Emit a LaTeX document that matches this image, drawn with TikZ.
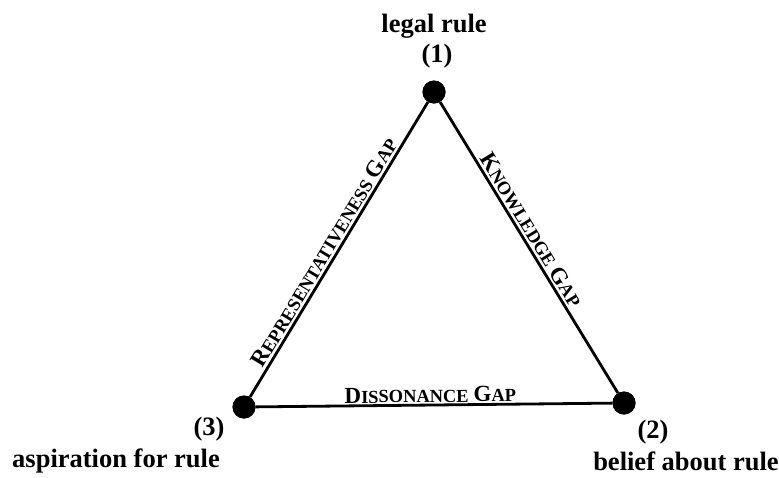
\documentclass[tikz,border=0pt]{standalone}
\usepackage{fontspec}
\setmainfont{Liberation Serif}
\newcommand\fakesc[2]{{\fontsize{23}{23}\selectfont #1}{\fontsize{18.4}{18.4}\selectfont #2}}
\begin{document}
\begin{tikzpicture}[x=1pt,y=-1pt,
  dot/.style={circle,fill=black,inner sep=0pt,minimum size=23pt},
  edge/.style={line width=2.8pt},
  vlabel/.style={font=\fontsize{26.5}{28}\selectfont\bfseries,anchor=base,inner sep=0pt},
  gaplabel/.style={font=\fontsize{20}{20}\selectfont\bfseries,sloped,above,inner sep=2pt}]
\useasboundingbox (0,0) rectangle (779,477);
\node[dot] (top) at (434,92) {};
\node[dot] (right) at (624,403) {};
\node[dot] (left) at (244,407) {};
\draw[edge] (left) -- node[gaplabel,pos=0.47] {\fakesc{R}{EPRESENTATIVENESS} \fakesc{G}{AP}} (top);
\draw[edge] (top) -- node[gaplabel,pos=0.46] {\fakesc{K}{NOWLEDGE} \fakesc{G}{AP}} (right);
\draw[edge] (left) -- node[gaplabel,pos=0.49,inner sep=1pt] {\fakesc{D}{ISSONANCE} \fakesc{G}{AP}} (right);
\node[dot] at (top) {};
\node[dot] at (right) {};
\node[dot] at (left) {};
\node[vlabel] (t1) at (434,32) {legal rule};
\node[vlabel] (n1) at (437,62) {(1)};
\node[vlabel] (n3) at (209,435) {(3)};
\node[vlabel] (t3) at (116,467) {aspiration for rule};
\node[vlabel] (n2) at (653,438) {(2)};
\node[vlabel] (t2) at (686,470) {belief about rule};
\end{tikzpicture}
\end{document}
